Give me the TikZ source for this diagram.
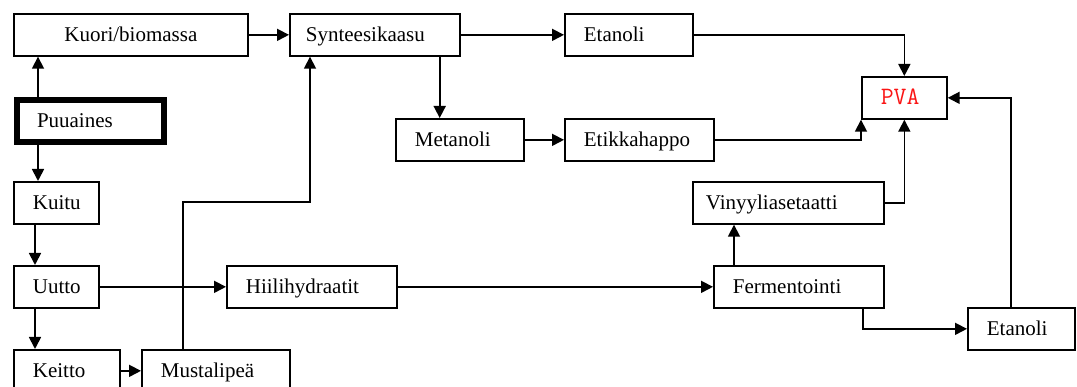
\documentclass[tikz,border=0pt]{standalone}
\usepackage{fontspec}
\setmainfont{Liberation Serif}
\usetikzlibrary{arrows.meta}
\definecolor{pvared}{RGB}{250,20,20}
\begin{document}
\hyphenpenalty=10000\relax
\begin{tikzpicture}[x=1pt,y=-1pt,
  box/.style={draw, line width=1.7pt, minimum height=42pt, inner xsep=19pt,
    inner ysep=0pt, anchor=north west, align=left, text height=18pt, text depth=4pt,
    font=\fontsize{21}{22}\selectfont},
  arr/.style={line width=1.7pt, -{Triangle[length=12pt,width=12pt]}}]
\useasboundingbox (0,0) rectangle (1077,387);
\clip (0,0) rectangle (1077,387);
% process boxes (left edge, top edge; text width = box width - 38)
\node[box, text width=196pt, align=center] (kuori) at (13,13) {Kuori/biomassa};
\node[box, inner xsep=16pt, text width=138pt] (synt) at (289,13) {Synteesikaasu};
\node[box, text width=90pt] (eta1) at (564,13) {Etanoli};
\node[box, text width=47pt, font=\ttfamily\fontsize{25}{25}\selectfont, text=pvared] (pva) at (861,76) {PVA};
\node[box, line width=6pt, inner xsep=20pt, text width=107pt] (puu) at (14,97) {Puuaines};
\node[box, text width=90pt] (meta) at (395,118) {Metanoli};
\node[box, text width=111pt] (etik) at (564,118) {Etikkahappo};
\node[box, text width=47pt] (kuitu) at (13,181) {Kuitu};
\node[box, inner xsep=13pt, text width=165pt] (viny) at (692,181) {Vinyyliasetaatti};
\node[box, text width=47pt] (uutto) at (13,265) {Uutto};
\node[box, text width=132pt] (hiili) at (226,265) {Hiilihydraatit};
\node[box, text width=132pt] (ferm) at (713,265) {Fermentointi};
\node[box, text width=69pt] (eta2) at (967,307) {Etanoli};
\node[box, text width=68pt] (keitto) at (13,349) {Keitto};
\node[box, text width=110pt] (musta) at (141,349) {Mustalipeä};
% connectors
\draw[arr] ([xshift=24pt]puu.north west) -- ([xshift=24pt]puu.north west |- kuori.south);
\draw[arr] ([xshift=24pt]puu.south west) -- ([xshift=24pt]puu.south west |- kuitu.north);
\draw[arr] ([xshift=22pt]kuitu.south west) -- ([xshift=22pt]uutto.north west);
\draw[arr] ([xshift=22pt]uutto.south west) -- ([xshift=22pt]keitto.north west);
\draw[arr] (uutto.east) -- (hiili.west);
\draw[arr] (keitto.east) -- (musta.west);
\coordinate (mtop) at ([xshift=42pt]musta.north west);
\coordinate (sbot) at ([xshift=21pt]synt.south west);
\draw[arr] (mtop) -- ++(0,-147) -| (sbot);
\draw[arr] (kuori.east) -- (synt.west);
\draw[arr] (synt.east) -- (eta1.west);
\draw[arr] ([xshift=-21pt]synt.south east) -- ([xshift=-21pt]synt.south east |- meta.north);
\draw[arr] (meta.east) -- (etik.west);
\draw[arr] (eta1.east) -| (pva.north);
\draw[arr] (etik.east) -| (pva.south west);
\draw[arr] (viny.east) -| (pva.south);
\draw[arr] (hiili.east) -- (ferm.west);
\draw[arr] ([xshift=21pt]ferm.north west) -- ([xshift=21pt]ferm.north west |- viny.south);
\draw[arr] ([xshift=-22pt]ferm.south east) |- (eta2.west);
\draw[arr] ([xshift=-10.5pt]eta2.north) |- (pva.east);
\end{tikzpicture}
\end{document}
